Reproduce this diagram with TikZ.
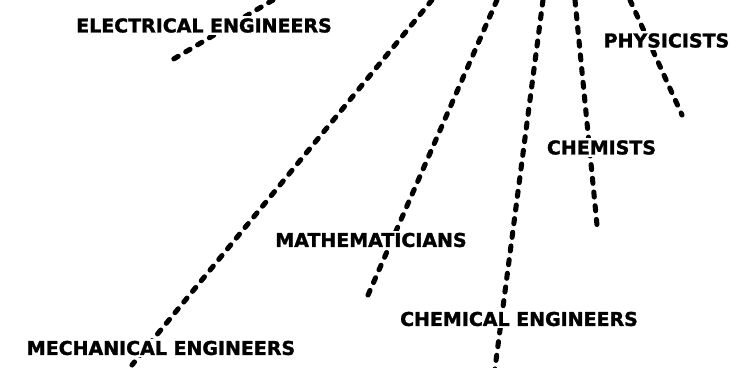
\documentclass[tikz,border=0pt]{standalone}
\usepackage{fontspec}
\setsansfont{DejaVu Sans}[BoldFeatures={FakeBold=1.6}]
\usepackage{tikz}

\begin{document}
\begin{tikzpicture}[
  x=0.025cm, y=-0.025cm,
  field/.style={fill=white, inner sep=1.5pt,
                font=\sffamily\bfseries\fontsize{13.5}{16}\selectfont},
  ray/.style={line width=3.6pt, line cap=round, dash pattern=on 3.6pt off 6.2pt},
]
  \useasboundingbox (0,0) rectangle (744,368);
  \clip (0,0) rectangle (744,368);
  % rays come in from above the top edge
  \coordinate (ee-top) at (273,0);  \coordinate (ee-tip) at (172,60);
  \coordinate (me-top) at (432,0);  \coordinate (me-tip) at (132,365);
  \coordinate (ma-top) at (497,0);  \coordinate (ma-tip) at (365,302);
  \coordinate (ce-top) at (543,0);  \coordinate (ce-tip) at (494,376);
  \coordinate (ch-top) at (575,0);  \coordinate (ch-tip) at (597,225);
  \coordinate (ph-top) at (630,0);  \coordinate (ph-tip) at (682,115);
  \draw[ray] (ee-top) -- (ee-tip);
  \draw[ray] (me-top) -- (me-tip);
  \draw[ray] (ma-top) -- (ma-tip);
  \draw[ray] (ce-top) -- (ce-tip);
  \draw[ray] (ch-top) -- (ch-tip);
  \draw[ray] (ph-top) -- (ph-tip);
  % labels sit over the rays
  \node[field] (ee) at (204,25.5) {ELECTRICAL ENGINEERS};
  \node[field] (ph) at (666.5,40.5) {PHYSICISTS};
  \node[field] (ch) at (601.5,147.5) {CHEMISTS};
  \node[field] (ma) at (371,240) {MATHEMATICIANS};
  \node[field] (ce) at (519,319) {CHEMICAL ENGINEERS};
  \node[field] (me) at (161,348) {MECHANICAL ENGINEERS};
\end{tikzpicture}
\end{document}
